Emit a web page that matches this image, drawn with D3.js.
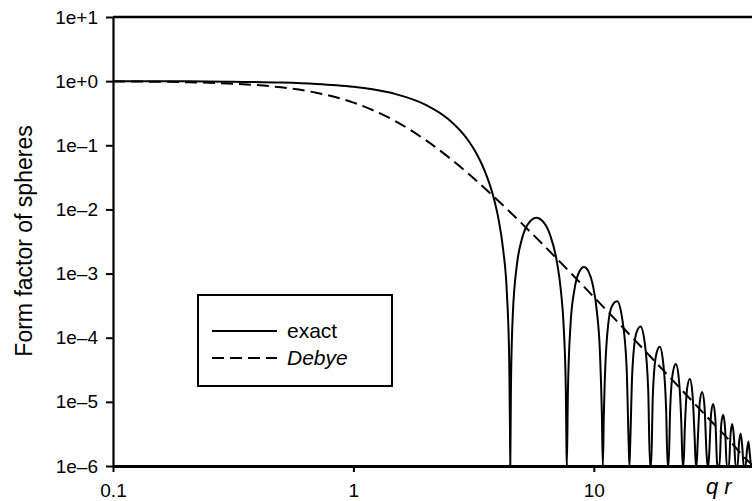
<!DOCTYPE html>
<html>
<head>
<meta charset="utf-8">
<script src="https://cdn.jsdelivr.net/npm/d3@7"></script>
<style>
  html, body { margin: 0; padding: 0; background: #fff; }
  svg { display: block; font-family: "Liberation Sans", Arial, Helvetica, sans-serif; }
</style>
</head>
<body>
<svg id="chart" width="752" height="501"></svg>
<script>
// Axis ticks
const xTickValues = [0.1, 1, 10];
const xTickLabels = ["0.1", "1", "10"];
const yTickValues = [1e1, 1e0, 1e-1, 1e-2, 1e-3, 1e-4, 1e-5, 1e-6];
const yTickLabels = ["1e+1", "1e+0", "1e\u20131", "1e\u20132", "1e\u20133", "1e\u20134", "1e\u20135", "1e\u20136"];

// Exact sphere form factor, sampled lobe by lobe (0 = minimum of a lobe)
const exactQR = [
  0.1, 0.2, 0.3, 0.5, 0.7, 0.85, 1.0, 1.2, 1.5, 2.0, 2.5, 3.0, 3.25, 3.5, 3.8, 4.0, 4.2, 4.35, 4.45, 4.48, 4.493,
  4.52, 4.6, 4.8, 5.0, 5.3, 5.76, 6.2, 6.6, 7.0, 7.3, 7.5, 7.65, 7.70, 7.725,
  7.8, 8.0, 8.3, 8.7, 9.1, 9.5, 9.9, 10.3, 10.6, 10.8, 10.904,
  11.0, 11.28, 11.85, 12.49, 13.12, 13.69, 13.97, 14.066,
  14.16, 14.45, 15.01, 15.64, 16.28, 16.84, 17.13, 17.221,
  17.32, 17.60, 18.17, 18.80, 19.43, 19.99, 20.28, 20.371,
  20.47, 20.75, 21.32, 21.95, 22.58, 23.14, 23.42, 23.519,
  23.61, 23.90, 24.46, 25.09, 25.72, 26.29, 26.57, 26.666,
  26.76, 27.04, 27.61, 28.24, 28.87, 29.43, 29.72, 29.812,
  29.91, 30.19, 30.76, 31.38, 32.01, 32.58, 32.86, 32.956,
  33.05, 33.33, 33.90, 34.53, 35.16, 35.72, 36.01, 36.101,
  36.19, 36.48, 37.04, 37.67, 38.30, 38.87, 39.15, 39.245,
  39.34, 39.62, 40.19, 40.82, 41.45, 42.01, 42.29, 42.388,
  42.48, 42.77, 43.33, 43.96, 44.59, 45.15, 45.44, 45.531
];
const exactP = [
  0.998, 0.992, 0.982, 0.951, 0.906, 0.864, 0.817, 0.745, 0.628, 0.427, 0.250, 0.120, 0.0745, 0.0419, 0.0171, 0.00758, 0.00231, 0.00049, 0.000041, 0.0000036, 0,
  1.5e-5, 2.17e-4, 1.48e-3, 3.26e-3, 5.77e-3, 7.43e-3, 6.21e-3, 3.87e-3, 1.63e-3, 5.3e-4, 1.4e-4, 1.46e-5, 1.6e-6, 0,
  1.33e-5, 1.59e-4, 5.53e-4, 1.07e-3, 1.27e-3, 1.08e-3, 6.7e-4, 2.56e-4, 6.2e-5, 6.8e-6, 0,
  5.4e-6, 7.5e-5, 3.0e-4, 3.7e-4, 2.0e-4, 3.5e-5, 2.1e-6, 0,
  2.0e-6, 2.8e-5, 1.16e-4, 1.50e-4, 8.4e-5, 1.52e-5, 9e-7, 0,
  9e-7, 1.27e-5, 5.4e-5, 7.2e-5, 4.1e-5, 7.6e-6, 5e-7, 0,
  4e-7, 6.6e-6, 2.86e-5, 3.88e-5, 2.27e-5, 4.3e-6, 3e-7, 0,
  2e-7, 3.7e-6, 1.65e-5, 2.27e-5, 1.35e-5, 2.6e-6, 2e-7, 0,
  1e-7, 2.3e-6, 1.01e-5, 1.42e-5, 8.5e-6, 1.6e-6, 1e-7, 0,
  1e-7, 1.5e-6, 6.6e-6, 9.3e-6, 5.6e-6, 1.1e-6, 1e-7, 0,
  1e-7, 1.0e-6, 4.5e-6, 6.3e-6, 3.9e-6, 7.5e-7, 1e-7, 0,
  1e-7, 6.9e-7, 3.1e-6, 4.5e-6, 2.7e-6, 5.3e-7, 1e-7, 0,
  1e-7, 4.9e-7, 2.3e-6, 3.2e-6, 2.0e-6, 3.9e-7, 1e-7, 0,
  1e-7, 3.6e-7, 1.7e-6, 2.4e-6, 1.5e-6, 2.9e-7, 1e-7, 0
];

// Debye approximation
const debyeQR = [0.1, 0.2, 0.3, 0.5, 0.7, 1.0, 1.5, 2.0, 2.5, 3.0, 4.0, 5.0, 6.0, 8.0, 10, 13, 16, 20, 25, 30, 36, 42, 45.5];
const debyeP = [0.991, 0.963, 0.920, 0.800, 0.660, 0.463, 0.236, 0.120, 0.0642, 0.0364, 0.0137, 0.00612, 0.00310, 0.00103,
  0.000432, 0.000154, 0.0000675, 0.0000278, 0.0000114, 0.0000055, 0.0000027, 0.0000014, 0.00000105];

const seriesNames = ["exact", "Debye"];
const xAxisTitle = "q r";
const yAxisTitle = "Form factor of spheres";

const svg = d3.select("#chart");
const plotLeft = 113, plotRight = 752, plotTop = 17, plotBottom = 466;

const x = d3.scaleLog().domain([0.1, 45.5]).range([plotLeft, plotRight]);
const y = d3.scaleLog().domain([1e-6, 10]).range([plotBottom, plotTop]).clamp(true);

svg.append("defs").append("clipPath").attr("id", "plot")
  .append("rect").attr("x", plotLeft).attr("y", plotTop - 2)
  .attr("width", plotRight - plotLeft).attr("height", plotBottom - plotTop + 4);

const line = d3.line()
  .x(d => x(d[0]))
  .y(d => y(d[1]))
  .curve(d3.curveMonotoneX);

const exactData = exactQR.map((q, i) => [q, exactP[i]]);
const debyeData = debyeQR.map((q, i) => [q, debyeP[i]]);

const plot = svg.append("g").attr("clip-path", "url(#plot)");
plot.append("path").datum(debyeData)
  .attr("d", line).attr("fill", "none").attr("stroke", "#000")
  .attr("stroke-width", 2).attr("stroke-dasharray", "12,6");
plot.append("path").datum(exactData)
  .attr("d", line).attr("fill", "none").attr("stroke", "#000")
  .attr("stroke-width", 2).attr("stroke-linejoin", "round");

// Axes
const yAxis = svg.append("g").attr("transform", `translate(${plotLeft},0)`)
  .call(d3.axisLeft(y).tickValues(yTickValues).tickFormat((d, i) => yTickLabels[i])
    .tickSize(7).tickSizeOuter(0).tickPadding(8));
yAxis.select(".domain").attr("stroke-width", 2.2);
yAxis.selectAll(".tick line").attr("stroke-width", 2);
yAxis.selectAll("text").attr("font-size", 19).attr("fill", "#000")
  .attr("font-family", "'Liberation Sans', Arial, sans-serif");

const xAxis = svg.append("g").attr("transform", `translate(0,${plotBottom})`)
  .call(d3.axisBottom(x).tickValues(xTickValues).tickFormat((d, i) => xTickLabels[i])
    .tickSize(6).tickSizeOuter(0).tickPadding(12));
xAxis.select(".domain").attr("stroke-width", 3);
xAxis.selectAll(".tick line").attr("stroke-width", 2);
xAxis.selectAll("text").attr("font-size", 19).attr("fill", "#000")
  .attr("font-family", "'Liberation Sans', Arial, sans-serif");

// Top frame line
svg.append("line").attr("x1", plotLeft).attr("x2", plotRight).attr("y1", y(10)).attr("y2", y(10))
  .attr("stroke", "#000").attr("stroke-width", 2.4);

// Titles
svg.append("text").attr("x", 706).attr("y", 494)
  .attr("font-size", 22).attr("font-style", "italic").text(xAxisTitle);
svg.append("text").attr("transform", "translate(32,241) rotate(-90)")
  .attr("text-anchor", "middle").attr("font-size", 23).text(yAxisTitle);

// Legend
const lg = svg.append("g");
lg.append("rect").attr("x", 198).attr("y", 295).attr("width", 194).attr("height", 91)
  .attr("fill", "#fff").attr("stroke", "#000").attr("stroke-width", 2);
const rows = [
  { name: seriesNames[0], dash: null, italic: false, yy: 331 },
  { name: seriesNames[1], dash: "12,6", italic: true, yy: 358 }
];
rows.forEach(r => {
  lg.append("line").attr("x1", 212).attr("x2", 277).attr("y1", r.yy).attr("y2", r.yy)
    .attr("stroke", "#000").attr("stroke-width", 2).attr("stroke-dasharray", r.dash);
  lg.append("text").attr("x", 287).attr("y", r.yy).attr("dy", "0.35em")
    .attr("font-size", 21).attr("font-style", r.italic ? "italic" : "normal").text(r.name);
});
</script>
</body>
</html>
